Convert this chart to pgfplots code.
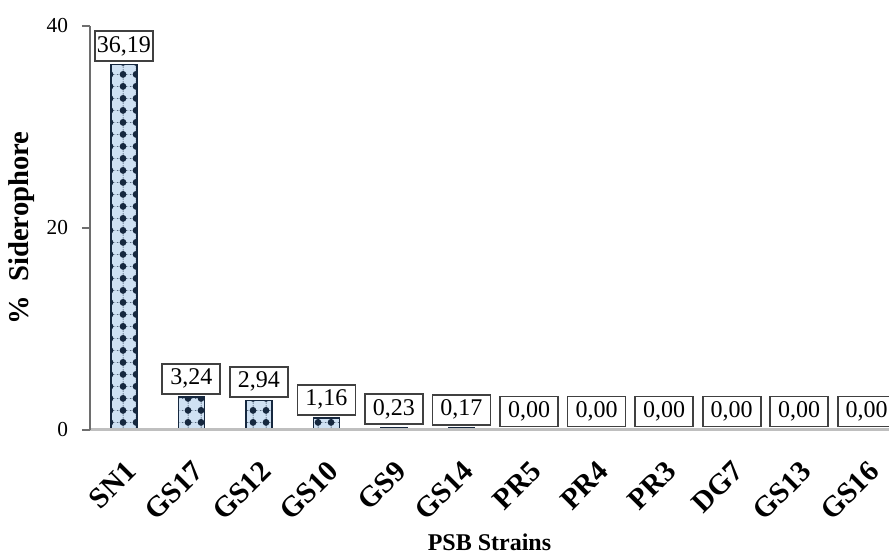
\documentclass[border=0pt]{standalone}
\usepackage{pgfplots}
\pgfplotsset{compat=1.18}
\usepackage{pgfplotstable}
\usepackage{fontspec}
\setmainfont{Liberation Serif}
\usetikzlibrary{patterns.meta}
\definecolor{barfill}{HTML}{CFE1F3}
\definecolor{bardark}{HTML}{16283F}
\definecolor{boxgray}{HTML}{404040}
\definecolor{axisgray}{HTML}{BFBFBF}
\definecolor{yaxisgray}{HTML}{6E6E6E}
\tikzdeclarepattern{
  name=bigdots, type=uncolored,
  bounding box={(0pt,0pt) and (9.75pt,8.7pt)},
  tile size={(9.75pt,8.7pt)},
  code={
    \draw[line width=0.45pt, dash pattern=on 1.2pt off 1.2pt] (0pt,4.35pt) -- (9.75pt,4.35pt);
    \draw[line width=0.45pt, dash pattern=on 1.2pt off 1.2pt] (4.875pt,0pt) -- (4.875pt,8.7pt);
    \fill (4.875pt,4.35pt) circle (2.7pt);
  }
}
\pgfplotstableread{
x y
0 36.19
1 3.24
2 2.94
3 1.16
4 0.23
5 0.17
6 0.00
7 0.00
8 0.00
9 0.00
10 0.00
11 0.00
}\datatable
\begin{document}
\begin{tikzpicture}
\begin{axis}[
  at={(0,0)}, anchor=south west,
  scale only axis, width=599.25pt, height=303pt,
  xmin=-0.5, xmax=11.33, ymin=0, ymax=40,
  /pgf/number format/assume math mode=true,
  axis on top,
  axis x line*=bottom, axis y line*=left,
  x axis line style={draw=axisgray, line width=2.25pt},
  y axis line style={draw=yaxisgray, line width=1pt},
  xtick={0,...,11},
  xticklabels={SN1,GS17,GS12,GS10,GS9,GS14,PR5,PR4,PR3,DG7,GS13,GS16},
  xtick style={draw=none},
  ytick={0,20,40},
  ytick style={draw=yaxisgray, line width=1pt},
  tick align=outside, major tick length=6pt,
  yticklabel style={font=\fontsize{16}{19}\selectfont, xshift=-7pt},
  xticklabel shift=16pt,
  xticklabel style={rotate=45, anchor=north east, font=\bfseries\fontsize{22}{24}\selectfont, inner sep=0pt},
  ylabel={\%\ \ Siderophore},
  ylabel style={at={([xshift=-51pt]axis description cs:0,0.5)}, anchor=center, font=\bfseries\fontsize{21.5}{24}\selectfont},
  xlabel={PSB Strains},
  xlabel style={at={([yshift=-84pt]axis description cs:0.5,0)}, anchor=center, font=\bfseries\fontsize{18}{20}\selectfont},
  ybar, bar width=19.5pt,
  nodes near coords={\pgfmathprintnumber[fixed,fixed zerofill,precision=2,use comma,assume math mode=true]{\pgfplotspointmeta}},
  point meta=y,
  nodes near coords style={draw=boxgray, line width=1.3pt, fill=white, font=\fontsize{18}{20}\selectfont, minimum width=43.5pt, minimum height=22.5pt, inner sep=1pt, anchor=south, yshift=2pt},
  clip=false,
]
\addplot[bar shift=0pt, draw=bardark, line width=1.2pt, fill=barfill,
  postaction={pattern=bigdots, pattern color=bardark}] table[x=x,y=y] {\datatable};
\end{axis}
\pgfresetboundingbox
\path (-67.5pt,-94.5pt) rectangle (599.25pt,322.5pt);
\end{tikzpicture}
\end{document}
